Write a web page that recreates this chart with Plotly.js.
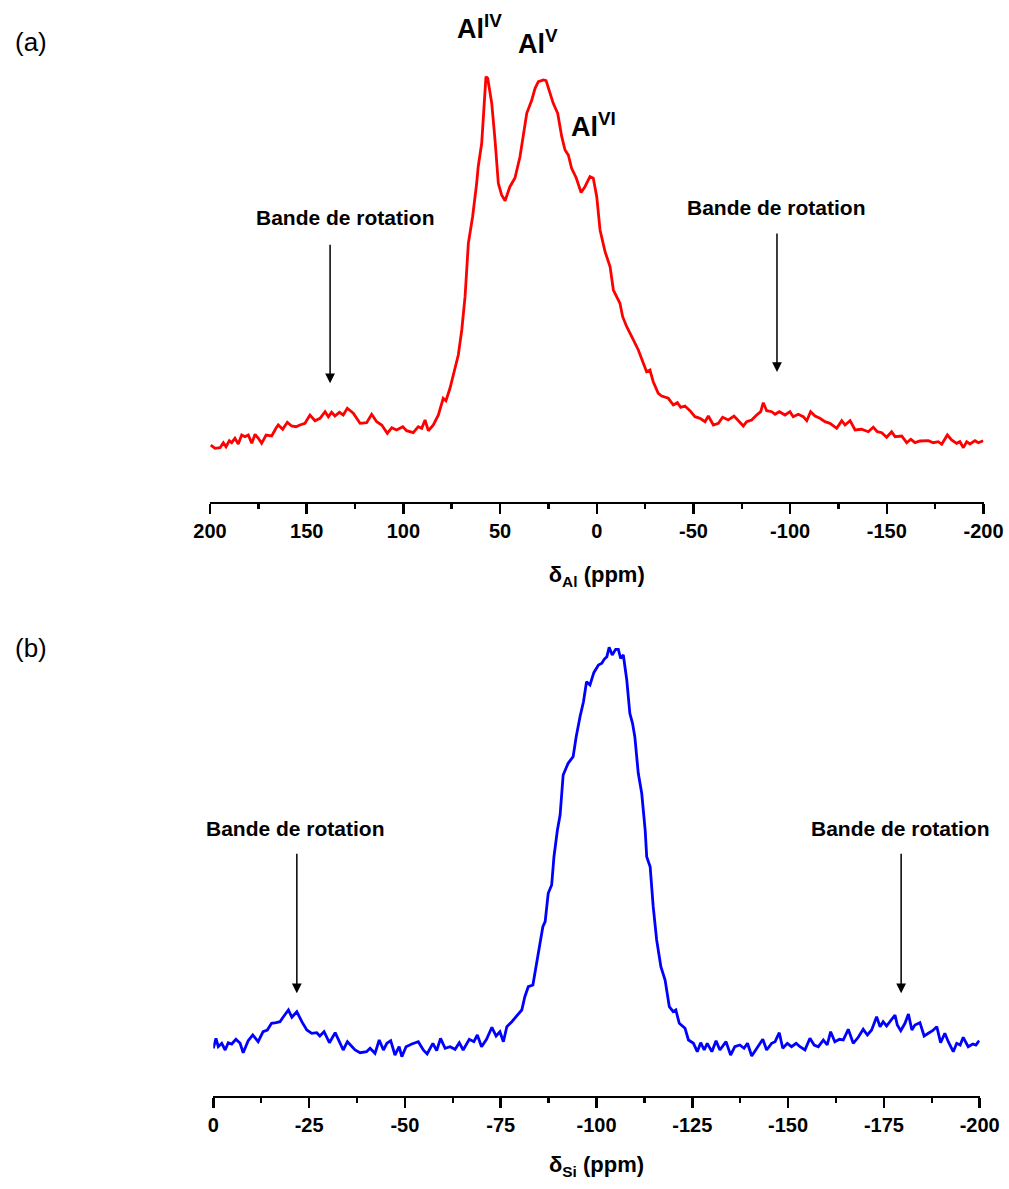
<!DOCTYPE html>
<html>
<head>
<meta charset="utf-8">
<script src="https://cdn.plot.ly/plotly-3.0.1.min.js"></script>
<style>
  html, body { margin: 0; padding: 0; background: #fff; }
  #chart { width: 1009px; height: 1189px; }
</style>
</head>
<body>
<div id="chart"></div>
<script>
// ---- (a) 27Al MAS NMR spectrum ----
const alShift = [199.6,197.4,194.8,193.1,191.7,190.0,188.8,187.1,185.4,183.6,181.9,180.2,178.4,176.7,175.0,173.3,171.0,168.1,165.9,164.7,162.4,160.0,157.8,155.5,153.5,150.9,148.3,145.7,143.1,140.5,138.8,137.1,135.4,133.1,131.1,129.0,125.9,122.4,119.0,116.4,113.8,111.2,108.3,106.0,103.5,100.3,98.3,94.9,92.3,90.5,88.8,87.1,84.5,81.9,79.4,78.0,75.9,73.3,71.6,69.8,68.1,66.4,64.2,62.1,61.3,59.5,58.3,57.3,56.4,54.3,52.6,50.9,49.2,47.4,44.9,42.3,39.7,38.0,36.2,33.6,31.9,30.2,27.6,26.2,24.2,22.5,20.2,18.1,16.4,14.7,13.0,10.7,8.1,6.1,3.5,1.8,0.0,-1.7,-4.3,-6.9,-8.6,-10.3,-12.0,-13.4,-15.5,-18.1,-21.5,-24.1,-25.8,-27.5,-29.2,-31.8,-33.6,-37.0,-39.6,-41.7,-43.4,-45.6,-48.2,-50.8,-53.4,-56.0,-57.7,-60.3,-62.9,-65.1,-68.0,-71.0,-73.2,-75.8,-77.5,-80.1,-82.7,-84.8,-86.1,-87.9,-90.5,-92.2,-94.4,-97.4,-99.9,-101.6,-104.2,-106.8,-108.6,-110.6,-112.9,-115.4,-118.0,-120.6,-124.1,-126.7,-128.4,-131.0,-133.6,-137.0,-140.4,-143.0,-145.1,-147.4,-149.9,-152.5,-154.3,-157.7,-160.3,-162.4,-164.6,-167.2,-171.5,-174.0,-176.6,-178.4,-181.3,-183.5,-186.1,-187.8,-189.6,-191.3,-193.0,-195.6,-197.3,-199.9];
const alIntensity = [56.7,53.4,54.0,59.0,55.0,61.0,59.0,63.4,57.7,66.7,65.0,66.7,58.4,67.4,63.4,58.4,66.7,65.7,73.4,76.7,72.4,79.4,75.7,75.0,76.7,78.4,86.7,81.0,83.4,90.0,85.0,89.4,85.7,89.4,86.7,93.4,88.4,78.4,79.0,87.4,80.0,76.7,68.4,74.0,71.7,75.0,71.0,69.0,75.0,73.4,81.7,71.0,76.7,86.7,103.4,101.0,113.4,135.0,146.7,171.7,205.0,258.4,285.0,318.4,335.0,358.4,401.7,425.0,423.4,398.4,361.7,318.4,306.7,301.0,315.0,323.7,345.0,365.0,388.4,401.7,413.4,420.0,421.7,421.0,408.4,398.4,388.4,365.0,351.7,346.7,333.4,324.2,309.2,315.0,325.0,323.4,305.0,271.7,250.0,235.0,211.7,205.0,198.4,185.0,175.0,165.0,151.7,138.4,130.0,131.7,120.0,108.4,105.7,103.4,96.7,99.0,94.4,95.7,91.0,85.0,83.4,80.0,85.7,76.7,78.4,84.4,81.7,85.7,81.0,75.7,80.0,81.7,86.7,90.0,99.0,91.0,90.0,87.4,90.0,86.7,90.0,85.0,87.4,85.0,81.0,90.0,85.7,83.4,80.0,78.4,73.4,81.0,76.7,81.0,71.7,72.4,70.0,74.4,70.0,69.0,64.4,70.0,65.0,65.7,59.0,62.4,59.0,60.7,61.0,59.0,60.0,57.4,66.7,61.7,58.4,60.0,54.0,60.0,57.7,61.0,59.0,61.0];

// ---- (b) 29Si MAS NMR spectrum ----
const siShift = [0.0,-0.7,-1.3,-2.2,-3.1,-3.9,-4.8,-5.9,-7.0,-7.8,-9.1,-10.3,-11.7,-13.0,-14.1,-15.2,-16.4,-17.4,-18.3,-19.6,-20.5,-21.8,-23.1,-24.4,-25.7,-27.0,-27.8,-28.9,-30.3,-31.8,-32.9,-33.9,-35.0,-36.1,-37.0,-38.3,-40.0,-40.9,-42.2,-43.3,-44.4,-45.3,-46.3,-47.4,-48.5,-49.2,-50.3,-51.8,-53.5,-54.8,-55.8,-57.3,-58.3,-59.3,-60.5,-61.8,-63.1,-64.2,-65.2,-66.8,-68.0,-68.9,-70.0,-71.3,-72.7,-73.8,-74.8,-75.7,-76.6,-77.9,-79.1,-80.5,-81.3,-82.2,-83.4,-84.2,-85.1,-86.0,-86.6,-87.4,-88.3,-88.9,-89.8,-90.5,-91.3,-92.6,-93.9,-94.7,-95.7,-96.6,-97.4,-98.3,-99.3,-100.5,-101.4,-102.0,-102.7,-103.3,-104.1,-105.0,-105.7,-106.3,-107.0,-107.9,-108.7,-109.4,-110.0,-110.9,-111.8,-112.7,-113.1,-114.0,-114.8,-115.7,-116.8,-117.9,-119.0,-120.0,-120.7,-121.6,-123.1,-124.0,-125.3,-126.3,-127.2,-128.1,-128.9,-130.1,-131.2,-132.2,-133.8,-135.0,-136.1,-137.4,-138.5,-139.4,-140.5,-141.8,-143.4,-144.4,-145.7,-146.6,-147.7,-148.6,-149.8,-150.9,-152.1,-153.1,-154.4,-155.7,-156.8,-157.9,-159.2,-160.2,-161.1,-162.2,-163.4,-164.4,-165.7,-167.0,-168.3,-169.6,-170.7,-171.8,-173.1,-174.0,-174.8,-175.7,-176.6,-177.9,-178.5,-179.4,-180.5,-181.4,-182.3,-183.1,-184.4,-185.5,-186.6,-187.7,-188.8,-189.8,-190.9,-191.8,-193.1,-194.0,-194.9,-195.7,-197.0,-198.2,-199.0,-199.9];
const siIntensity = [47.4,57.4,49.0,52.4,45.7,53.0,51.7,56.4,52.4,43.0,55.0,60.7,54.0,64.0,65.7,72.4,73.0,74.0,79.0,85.7,78.4,84.0,74.0,65.7,62.4,63.0,59.7,64.0,53.0,63.0,54.0,45.7,54.0,49.0,45.7,43.0,44.0,47.4,42.4,55.7,45.7,52.4,55.0,40.7,49.0,39.0,49.0,51.7,54.0,45.7,41.7,52.4,45.0,57.4,47.4,49.0,46.4,53.0,45.7,56.4,54.0,60.7,49.0,56.4,68.4,59.7,64.0,54.0,69.0,74.0,79.7,85.7,99.0,109.0,110.7,129.0,149.0,169.0,174.0,202.4,210.7,239.0,265.7,280.7,320.7,332.4,339.0,359.0,379.0,394.0,414.0,410.7,423.0,430.7,432.4,436.4,439.0,448.4,440.7,446.4,446.4,437.4,440.7,415.7,382.4,372.4,359.0,322.4,302.4,265.7,239.0,229.0,189.0,155.7,129.0,115.7,89.0,84.0,85.7,72.4,67.4,55.7,52.4,44.0,53.0,45.7,52.4,44.0,55.0,45.7,54.0,40.7,49.0,50.7,47.4,52.4,39.7,47.4,56.4,45.7,52.4,54.0,63.0,47.4,52.4,49.0,52.4,49.0,45.7,57.4,50.7,49.0,55.7,50.7,64.0,54.0,56.4,55.7,66.4,52.4,58.4,66.4,60.7,65.7,79.0,69.0,74.0,69.7,74.0,80.7,70.7,65.0,72.4,81.7,65.7,70.7,73.0,59.7,62.4,65.0,69.0,53.0,62.4,54.0,44.0,52.4,50.7,58.4,49.0,51.7,50.7,55.0];

// ---- tick labels ----
const alTickVals = [200,150,100,50,0,-50,-100,-150,-200];
const alTickText = ['200','150','100','50','0','-50','-100','-150','-200'];
const siTickVals = [0,-25,-50,-75,-100,-125,-150,-175,-200];
const siTickText = ['0','-25','-50','-75','-100','-125','-150','-175','-200'];

// ---- annotation labels ----
const bandLabel = 'Bande de rotation';
const alSites = ['Al<sup>IV</sup>','Al<sup>V</sup>','Al<sup>VI</sup>'];
const alSiteShift = [60.6, 30.4, 1.7];
const alSiteY = [474.7, 459.7, 376.7];
const alBandShift = [137.9, -93.2];
const alBandHeadY = [118.4, 129.7];
const alBandTextShift = [129.7, -92.7];
const alBandTextY = [284.7, 294.7];
const siBandShift = [-21.8, -179.5];
const siBandHeadY = [102.4, 102.4];
const siBandTextShift = [-21.5, -179.4];
const siBandTextY = [267.4, 266.7];

const FONT = 'Liberation Sans, Arial, Helvetica, sans-serif';

const traces = [
  { x: alShift, y: alIntensity, type: 'scatter', mode: 'lines', xaxis: 'x', yaxis: 'y',
    line: { color: '#FF0000', width: 2.8 }, showlegend: false, hoverinfo: 'skip' },
  { x: siShift, y: siIntensity, type: 'scatter', mode: 'lines', xaxis: 'x2', yaxis: 'y2',
    line: { color: '#0000FF', width: 2.8 }, showlegend: false, hoverinfo: 'skip' }
];

function xAxis(range, tv, tt, minorD, domain, anchor, title, standoff) {
  return {
    domain: domain, anchor: anchor, range: range, autorange: false,
    tickmode: 'array', tickvals: tv, ticktext: tt,
    ticks: 'outside', ticklen: 10, tickwidth: 2.5, tickcolor: '#000',
    minor: { ticks: 'outside', ticklen: 5, tickwidth: 2.5, tickcolor: '#000', dtick: minorD, tick0: 0, showgrid: false },
    showline: true, linewidth: 2.5, linecolor: '#000',
    showgrid: false, zeroline: false,
    tickfont: { family: FONT, size: 20, color: '#000', weight: 'bold' },
    title: { text: title, standoff: standoff, font: { family: FONT, size: 22, color: '#000', weight: 'bold' } },
    fixedrange: true
  };
}
function yAxis(range, domain, anchor) {
  return { domain: domain, anchor: anchor, range: range, autorange: false, visible: false,
    showline: false, showgrid: false, zeroline: false, showticklabels: false, fixedrange: true };
}

const annotations = [];
const textFont = { family: FONT, size: 21, color: '#000', weight: 'bold' };
const arrowBase = { text: '', showarrow: true, arrowhead: 2, arrowsize: 1.3, arrowwidth: 1.5, arrowcolor: '#000', ax: 0 };
for (let i = 0; i < 2; i++) {
  annotations.push(Object.assign({}, arrowBase, { xref: 'x', yref: 'y', x: alBandShift[i], y: alBandHeadY[i], ay: -140 }));
  annotations.push({ xref: 'x', yref: 'y', x: alBandTextShift[i], y: alBandTextY[i], text: bandLabel, showarrow: false, font: textFont, xanchor: 'center', yanchor: 'middle' });
  annotations.push(Object.assign({}, arrowBase, { xref: 'x2', yref: 'y2', x: siBandShift[i], y: siBandHeadY[i], ay: -141 }));
  annotations.push({ xref: 'x2', yref: 'y2', x: siBandTextShift[i], y: siBandTextY[i], text: bandLabel, showarrow: false, font: textFont, xanchor: 'center', yanchor: 'middle' });
}
for (let i = 0; i < 3; i++) {
  annotations.push({ xref: 'x', yref: 'y', x: alSiteShift[i], y: alSiteY[i], text: alSites[i], showarrow: false,
    font: { family: FONT, size: 27, color: '#000', weight: 'bold' }, xanchor: 'center', yanchor: 'middle' });
}
annotations.push({ xref: 'paper', yref: 'paper', x: 31/1009, y: 1 - 42/1189, text: '(a)', showarrow: false,
  font: { family: FONT, size: 26, color: '#000' }, xanchor: 'center', yanchor: 'middle' });
annotations.push({ xref: 'paper', yref: 'paper', x: 31/1009, y: 1 - 648/1189, text: '(b)', showarrow: false,
  font: { family: FONT, size: 26, color: '#000' }, xanchor: 'center', yanchor: 'middle' });

const layout = {
  width: 1009, height: 1189,
  margin: { l: 0, r: 0, t: 0, b: 0, pad: 0 },
  paper_bgcolor: '#fff', plot_bgcolor: '#fff',
  showlegend: false,
  xaxis: xAxis([200, -200], alTickVals, alTickText, 25, [210/1009, 983.5/1009], 'y', 'δ<sub>Al</sub> (ppm)', 26),
  yaxis: yAxis([0, 501.7], [(1189-501.7)/1189, 1], 'x'),
  xaxis2: xAxis([0, -200], siTickVals, siTickText, 12.5, [213.3/1009, 979.7/1009], 'y2', 'δ<sub>Si</sub> (ppm)', 22),
  yaxis2: yAxis([0, 495.7], [(1189-1095.7)/1189, (1189-600)/1189], 'x2'),
  annotations: annotations
};

Plotly.newPlot('chart', traces, layout, { staticPlot: true, displayModeBar: false });
</script>
</body>
</html>
